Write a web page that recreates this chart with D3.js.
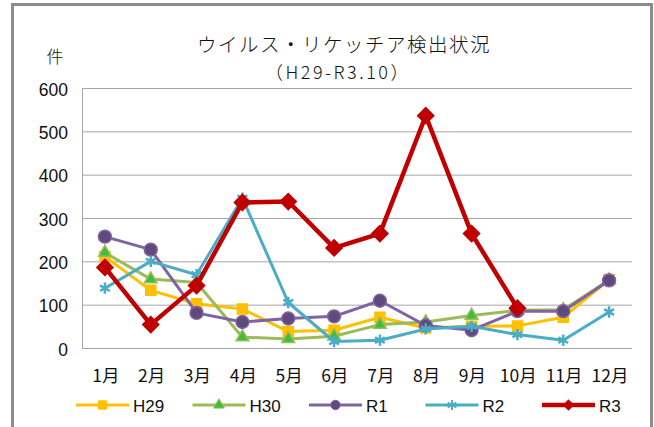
<!DOCTYPE html>
<html>
<head>
<meta charset="utf-8">
<script src="https://cdn.jsdelivr.net/npm/d3@7"></script>
<style>
  body { margin: 0; background: #fff; }
  svg text { fill: #111; }
</style>
</head>
<body>
<div id="chart"></div>
<script>
var months = ["1月", "2月", "3月", "4月", "5月", "6月", "7月", "8月", "9月", "10月", "11月", "12月"];
var yTicks = [0, 100, 200, 300, 400, 500, 600];

var h29 = [211, 133, 102, 90, 38, 41, 71, 46, 50, 51, 71, 158];
var h30 = [220, 159, 151, 25, 21, 27, 54, 60, 75, 87, 88, 157];
var r1 = [257, 227, 81, 60, 68, 73, 109, 52, 41, 85, 85, 156];
var r2 = [138, 200, 169, 346, 105, 15, 18, 44, 50, 31, 18, 83];
var r3 = [186, 54, 144, 336, 338, 231, 264, 536, 264, 92];

var seriesNames = ["H29", "H30", "R1", "R2", "R3"];
var seriesValues = [h29, h30, r1, r2, r3];
var lineColors = ["#FFC000", "#9BBB59", "#8064A2", "#4BACC6", "#C00000"];
var markerFills = ["#FFC000", "#3CC03C", "#604A7B", "#4BACC6", "#C00000"];
var markerTypes = [d3.symbolSquare, d3.symbolTriangle, d3.symbolCircle, d3.symbolAsterisk, d3.symbolSquare];

var W = 654, H = 427;
var margin = {top: 88, left: 82, right: 22, bottom: 79};
var width = W - margin.left - margin.right;
var height = H - margin.top - margin.bottom;

var svg = d3.select("#chart").append("svg")
    .attr("width", W)
    .attr("height", H);

// outer frame
svg.append("rect")
    .attr("x", 12.5).attr("y", 4.5)
    .attr("width", 639).attr("height", 440)
    .attr("fill", "none")
    .attr("stroke", "#8c8c8c")
    .attr("stroke-width", 3);

svg.append("text")
    .attr("x", 344).attr("y", 52)
    .attr("text-anchor", "middle")
    .style("font-family", "'Noto Sans CJK JP'")
    .style("font-size", "19.5px")
    .style("font-weight", 300)
    .style("letter-spacing", "1.5px")
    .text("ウイルス・リケッチア検出状況");

svg.append("text")
    .attr("x", 338).attr("y", 79)
    .attr("text-anchor", "middle")
    .style("font-family", "'Noto Sans CJK JP'")
    .style("font-size", "18px")
    .style("font-weight", 300)
    .style("letter-spacing", "2.5px")
    .text("（H29-R3.10）");

svg.append("text")
    .attr("x", 55).attr("y", 63)
    .attr("text-anchor", "middle")
    .style("font-family", "'Noto Sans CJK JP'")
    .style("font-size", "17px")
    .style("font-weight", 300)
    .text("件");

var g = svg.append("g")
    .attr("transform", "translate(" + margin.left + "," + margin.top + ")");

var x = d3.scaleBand().domain(months).range([0, width]);
var y = d3.scaleLinear().domain([0, 600]).range([height, 0]);

// gridlines
g.selectAll("line.grid")
  .data(yTicks)
  .enter().append("line")
    .attr("class", "grid")
    .attr("x1", 0).attr("x2", width)
    .attr("y1", function(d) { return y(d) + 0.5; })
    .attr("y2", function(d) { return y(d) + 0.5; })
    .attr("stroke", "#a6a6a6")
    .attr("stroke-width", 1);

g.append("line")
    .attr("x1", 0.5).attr("x2", 0.5)
    .attr("y1", 0).attr("y2", height + 0.5)
    .attr("stroke", "#a6a6a6");

var yAxis = g.append("g")
    .call(d3.axisLeft(y).tickValues(yTicks).tickSize(0).tickPadding(14));
yAxis.select(".domain").remove();
yAxis.selectAll("text")
    .style("font-family", "'Liberation Sans'")
    .style("font-size", "17.5px")
    .attr("dy", "0.4em");

var xAxis = g.append("g")
    .attr("transform", "translate(0," + height + ")")
    .call(d3.axisBottom(x).tickSize(0).tickPadding(22));
xAxis.select(".domain").remove();
xAxis.selectAll("text")
    .style("font-family", "'Noto Sans CJK JP'")
    .style("font-size", "17.5px")
    .attr("dx", "0.05em");

var line = d3.line()
    .x(function(d, i) { return x(months[i]) + x.bandwidth() / 2; })
    .y(function(d) { return y(d); });

var markerSizes = [100, 70, 130, 90, 130];

seriesValues.forEach(function(vals, i) {
  var sg = g.append("g");
  sg.append("path")
    .datum(vals)
    .attr("fill", "none")
    .attr("stroke", lineColors[i])
    .attr("stroke-width", i === 4 ? 4.5 : 3)
    .attr("stroke-linejoin", "round")
    .attr("d", line);
  sg.selectAll("path.mk")
    .data(vals)
    .enter().append("path")
      .attr("class", "mk")
      .attr("transform", function(d, j) {
        return "translate(" + (x(months[j]) + x.bandwidth() / 2) + "," + y(d) + ")" +
          (i === 4 ? " rotate(45)" : "");
      })
      .attr("d", d3.symbol().type(markerTypes[i]).size(markerSizes[i]))
      .attr("fill", markerFills[i])
      .attr("stroke", lineColors[i])
      .attr("stroke-width", i === 3 ? 2.5 : 1.5);
});

// legend
var legend = svg.append("g").attr("transform", "translate(76,405)");
seriesNames.forEach(function(name, i) {
  var lg = legend.append("g").attr("transform", "translate(" + (i * 116.5) + ",0)");
  lg.append("line")
    .attr("x1", 0).attr("x2", 53)
    .attr("stroke", lineColors[i])
    .attr("stroke-width", i === 4 ? 4.5 : 3);
  lg.append("path")
    .attr("transform", "translate(26.5,0)" + (i === 4 ? " rotate(45)" : ""))
    .attr("d", d3.symbol().type(markerTypes[i]).size(i === 4 ? 50 : (i === 1 ? 50 : 70)))
    .attr("fill", markerFills[i])
    .attr("stroke", lineColors[i])
    .attr("stroke-width", i === 3 ? 2 : 1);
  lg.append("text")
    .attr("x", 57).attr("y", 6.5)
    .style("font-family", "'Liberation Sans'")
    .style("font-size", "17px")
    .text(name);
});
</script>
</body>
</html>
